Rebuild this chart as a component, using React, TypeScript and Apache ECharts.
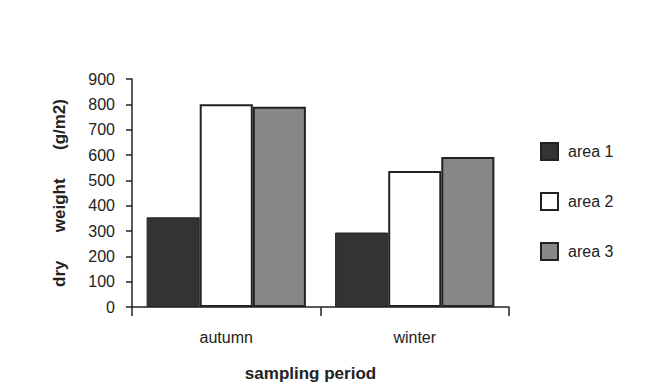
import React, { useEffect, useRef } from "react";
import * as echarts from "echarts";

const categories = ["autumn", "winter"];
const area1 = [354, 294];
const area2 = [800, 537];
const area3 = [790, 592];
const seriesNames = ["area 1", "area 2", "area 3"];
const yTicks = { min: 0, max: 900, interval: 100 };

export default function App() {
  const ref = useRef<HTMLDivElement>(null);
  useEffect(() => {
    if (!ref.current) return;
    const chart = echarts.init(ref.current, null, { renderer: "svg" });
    const font = "'Liberation Sans', Arial, Helvetica, sans-serif";
    const axisColor = "#222";
    chart.setOption({
      animation: false,
      backgroundColor: "#ffffff",
      textStyle: { fontFamily: font },
      grid: { left: 132, right: 161, top: 79, bottom: 85 },
      legend: {
        orient: "vertical",
        left: 540,
        top: 142,
        padding: 0,
        itemWidth: 17,
        itemHeight: 17,
        itemGap: 31,
        icon: "rect",
        textStyle: { fontFamily: font, fontSize: 16, color: "#222", padding: [0, 0, 0, 5] },
        data: seriesNames,
      },
      xAxis: {
        type: "category",
        data: categories,
        name: "sampling period",
        nameLocation: "middle",
        nameGap: 58,
        nameTextStyle: {
          fontFamily: font,
          fontSize: 17,
          fontWeight: "bold",
          color: "#222",
          padding: [0, 20, 0, 0],
        },
        axisLine: { lineStyle: { color: axisColor, width: 1.5 } },
        axisTick: { show: true, length: 9, lineStyle: { color: axisColor, width: 1.5 } },
        axisLabel: { fontFamily: font, fontSize: 16, color: "#222", margin: 22 },
      },
      yAxis: {
        type: "value",
        min: yTicks.min,
        max: yTicks.max,
        interval: yTicks.interval,
        name: "dry      weight      (g/m2)",
        nameLocation: "middle",
        nameRotate: 90,
        nameGap: 64,
        nameTextStyle: { fontFamily: font, fontSize: 17, fontWeight: "bold", color: "#222" },
        axisLine: { show: true, lineStyle: { color: axisColor, width: 1.5 } },
        axisTick: { show: true, length: 6, lineStyle: { color: axisColor, width: 1.5 } },
        axisLabel: { fontFamily: font, fontSize: 16, color: "#222", margin: 17 },
        splitLine: { show: false },
      },
      series: [
        {
          name: seriesNames[0],
          type: "bar",
          data: area1,
          barGap: "0%",
          barCategoryGap: "15.5%",
          itemStyle: { color: "#333333", borderColor: "#222", borderWidth: 1 },
        },
        {
          name: seriesNames[1],
          type: "bar",
          data: area2,
          itemStyle: { color: "#ffffff", borderColor: "#222", borderWidth: 2 },
        },
        {
          name: seriesNames[2],
          type: "bar",
          data: area3,
          itemStyle: { color: "#878787", borderColor: "#222", borderWidth: 2 },
        },
      ],
    });
    return () => chart.dispose();
  }, []);
  return <div ref={ref} style={{ width: 670, height: 392, position: "absolute", left: 0, top: 0 }} />;
}
